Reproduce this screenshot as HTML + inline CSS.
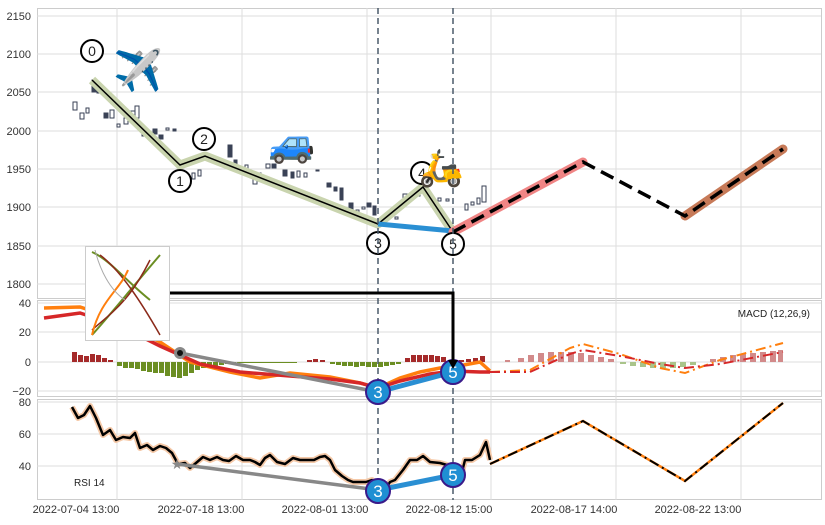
<!DOCTYPE html>
<html><head><meta charset="utf-8"><style>
body{margin:0;background:#fff;}
svg text{font-family:"Liberation Sans",sans-serif;}
</style></head><body>
<svg width="825" height="520" viewBox="0 0 825 520" xmlns="http://www.w3.org/2000/svg">
<rect width="825" height="520" fill="#fff"/>
<g fill="none" stroke="#ccc" stroke-width="1">
<rect x="37.5" y="8.5" width="784" height="290"/>
<rect x="37.5" y="300.5" width="784" height="96"/>
<rect x="37.5" y="399.5" width="784" height="100"/>
</g>
<g stroke="#ddd" stroke-width="1">
<line x1="37" x2="821" y1="16" y2="16"/><line x1="37" x2="821" y1="54" y2="54"/><line x1="37" x2="821" y1="92" y2="92"/><line x1="37" x2="821" y1="131" y2="131"/><line x1="37" x2="821" y1="169" y2="169"/><line x1="37" x2="821" y1="207" y2="207"/><line x1="37" x2="821" y1="246" y2="246"/><line x1="37" x2="821" y1="284" y2="284"/>
<line x1="37" x2="821" y1="303" y2="303"/><line x1="37" x2="821" y1="332" y2="332"/><line x1="37" x2="821" y1="362" y2="362"/><line x1="37" x2="821" y1="391" y2="391"/>
<line x1="37" x2="821" y1="402" y2="402"/><line x1="37" x2="821" y1="434" y2="434"/><line x1="37" x2="821" y1="466" y2="466"/>
<line x1="117" x2="117" y1="8" y2="500"/><line x1="242" x2="242" y1="8" y2="500"/><line x1="367" x2="367" y1="8" y2="500"/><line x1="491" x2="491" y1="8" y2="500"/><line x1="616" x2="616" y1="8" y2="500"/><line x1="741" x2="741" y1="8" y2="500"/>
</g>
<g font-size="11" fill="#333" text-anchor="end">
<text x="31" y="20">2150</text><text x="31" y="58">2100</text><text x="31" y="96">2050</text><text x="31" y="135">2000</text><text x="31" y="173">1950</text><text x="31" y="211">1900</text><text x="31" y="250">1850</text><text x="31" y="288">1800</text>
<text x="31" y="307">40</text><text x="31" y="336">20</text><text x="31" y="366">0</text><text x="31" y="395">−20</text>
<text x="31" y="406">80</text><text x="31" y="438">60</text><text x="31" y="470">40</text>
</g>
<g font-size="11" fill="#333" text-anchor="middle">
<text x="76" y="513">2022-07-04 13:00</text><text x="201" y="513">2022-07-18 13:00</text><text x="325" y="513">2022-08-01 13:00</text><text x="449" y="513">2022-08-12 15:00</text><text x="574" y="513">2022-08-17 14:00</text><text x="698" y="513">2022-08-22 13:00</text>
</g>
<g stroke="#3a4256" stroke-width="1" fill="#fff">
<rect x="73" y="102" width="4" height="8"/><rect x="80" y="113" width="4" height="6"/><rect x="86" y="108" width="3" height="5"/>
<rect x="92" y="80" width="4" height="12" fill="#3a4256"/><rect x="97" y="85" width="3" height="8" fill="#3a4256"/>
<rect x="104" y="113" width="4" height="5" fill="#3a4256"/><rect x="110" y="110" width="4" height="8"/><rect x="117" y="124" width="3" height="3"/>
<rect x="124" y="118" width="4" height="6"/><rect x="131" y="111" width="4" height="8"/><rect x="135" y="106" width="4" height="12"/>
<rect x="142" y="128" width="4" height="8" fill="#3a4256"/><rect x="153" y="129" width="4" height="5" fill="#3a4256"/><rect x="159" y="135" width="4" height="4" fill="#3a4256"/>
<rect x="166" y="128" width="3" height="2"/><rect x="173" y="129" width="3" height="2" fill="#3a4256"/>
<rect x="187" y="160" width="3" height="5"/><rect x="192" y="173" width="3" height="6"/><rect x="198" y="170" width="3" height="6"/>
<rect x="228" y="145" width="4" height="12" fill="#3a4256"/><rect x="234" y="160" width="3" height="5" fill="#3a4256"/><rect x="245" y="165" width="3" height="5"/>
<rect x="253" y="178" width="4" height="6"/><rect x="258" y="173" width="3" height="5"/><rect x="266" y="164" width="4" height="4"/><rect x="272" y="164" width="4" height="4" fill="#3a4256"/>
<rect x="283" y="170" width="4" height="6" fill="#3a4256"/><rect x="291" y="172" width="3" height="6" fill="#3a4256"/><rect x="297" y="171" width="3" height="6"/><rect x="304" y="173" width="3" height="4"/><rect x="316" y="170" width="3" height="1"/>
<rect x="327" y="183" width="4" height="4" fill="#3a4256"/><rect x="334" y="187" width="3" height="4" fill="#3a4256"/><rect x="340" y="188" width="3" height="12" fill="#3a4256"/>
<rect x="349" y="203" width="4" height="6" fill="#3a4256"/><rect x="356" y="210" width="3" height="8"/><rect x="362" y="207" width="3" height="2"/><rect x="367" y="203" width="4" height="4" fill="#3a4256"/><rect x="373" y="206" width="3" height="9" fill="#3a4256"/>
<rect x="383" y="218" width="3" height="4"/><rect x="395" y="217" width="3" height="2"/><rect x="403" y="194" width="4" height="10"/><rect x="409" y="194" width="4" height="6"/><rect x="416" y="190" width="4" height="6"/>
<rect x="438" y="198" width="3" height="3"/><rect x="446" y="199" width="3" height="2"/><rect x="465" y="204" width="3" height="6"/><rect x="471" y="202" width="3" height="3"/><rect x="477" y="198" width="3" height="6"/><rect x="482" y="186" width="4" height="16"/>
</g>
<polyline points="92,80 180,165 205,156 378,224 423,187 453,232" fill="none" stroke="#c9d4ae" stroke-width="9" stroke-linejoin="round"/>
<polyline points="92,80 180,165 205,156 378,224 423,187 453,232" fill="none" stroke="#000" stroke-width="1.5"/>
<line x1="378" y1="224" x2="453" y2="231" stroke="#2a8fd3" stroke-width="5"/>
<line x1="453" y1="232" x2="583" y2="162" stroke="#f08585" stroke-width="9" stroke-linecap="round"/>
<line x1="685" y1="216" x2="783" y2="149" stroke="#c77a58" stroke-width="9" stroke-linecap="round"/>
<polyline points="453,232 583,162 685,216 783,149" fill="none" stroke="#000" stroke-width="3.5" stroke-dasharray="14,7"/>
<g fill="#fff" stroke="#000" stroke-width="2">
<circle cx="92" cy="51" r="11"/><circle cx="180" cy="181" r="11"/><circle cx="204" cy="139" r="11"/><circle cx="378" cy="243" r="11"/><circle cx="422" cy="173" r="11"/><circle cx="453" cy="244" r="11"/>
</g>
<g font-size="14" text-anchor="middle" fill="#222">
<text x="92" y="56">0</text><text x="180" y="186">1</text><text x="204" y="144">2</text><text x="378" y="248">3</text><text x="422" y="178">4</text><text x="453" y="249">5</text>
</g>
<text x="138" y="84" font-size="40" text-anchor="middle">✈️</text>
<text x="292" y="156" font-size="38" text-anchor="middle">🚙</text>
<text x="441" y="180" font-size="36" text-anchor="middle">🛵</text>
<g fill="#a52a2a">
<rect x="72" y="352" width="5" height="10"/><rect x="78" y="355" width="5" height="7"/><rect x="84" y="356" width="5" height="6"/><rect x="90" y="354" width="5" height="8"/><rect x="96" y="355" width="5" height="7"/><rect x="102" y="358" width="5" height="4"/><rect x="108" y="360" width="5" height="2"/>
<rect x="307" y="360" width="5" height="2"/><rect x="313" y="359" width="5" height="3"/><rect x="320" y="360" width="5" height="2"/>
<rect x="405" y="358" width="5" height="4"/><rect x="411" y="355" width="5" height="7"/><rect x="417" y="355" width="5" height="7"/><rect x="423" y="355" width="5" height="7"/><rect x="429" y="355" width="5" height="7"/><rect x="435" y="356" width="5" height="6"/><rect x="441" y="357" width="5" height="5"/><rect x="459" y="360" width="5" height="2"/><rect x="466" y="359" width="5" height="3"/><rect x="473" y="358" width="5" height="4"/><rect x="480" y="356" width="5" height="6"/>
</g>
<g fill="#6b8e23">
<rect x="117" y="362" width="5" height="4"/><rect x="123" y="362" width="5" height="6"/><rect x="129" y="362" width="5" height="6"/><rect x="135" y="362" width="5" height="7"/><rect x="141" y="362" width="5" height="9"/><rect x="147" y="362" width="5" height="10"/><rect x="153" y="362" width="5" height="11"/><rect x="159" y="362" width="5" height="11"/><rect x="165" y="362" width="5" height="14"/><rect x="171" y="362" width="5" height="15"/><rect x="177" y="362" width="5" height="16"/><rect x="183" y="362" width="5" height="14"/><rect x="189" y="362" width="5" height="11"/><rect x="195" y="362" width="5" height="8"/><rect x="201" y="362" width="5" height="6"/><rect x="207" y="362" width="5" height="5"/><rect x="213" y="362" width="5" height="4"/><rect x="219" y="362" width="5" height="3"/><rect x="225" y="362" width="5" height="2"/><rect x="231" y="362" width="5" height="2"/><rect x="237" y="362" width="60" height="1"/>
<rect x="330" y="362" width="5" height="2"/><rect x="336" y="362" width="5" height="3"/><rect x="342" y="362" width="5" height="4"/><rect x="348" y="362" width="5" height="4"/><rect x="354" y="362" width="5" height="5"/><rect x="360" y="362" width="5" height="4"/><rect x="366" y="362" width="5" height="5"/><rect x="372" y="362" width="5" height="5"/><rect x="378" y="362" width="5" height="5"/><rect x="384" y="362" width="5" height="4"/><rect x="390" y="362" width="5" height="3"/><rect x="396" y="362" width="5" height="2"/>
</g>
<g fill="#d28a8a">
<rect x="505" y="360" width="5" height="2"/><rect x="518" y="358" width="6" height="4"/><rect x="528" y="355" width="6" height="7"/><rect x="538" y="353" width="6" height="9"/><rect x="548" y="352" width="6" height="10"/><rect x="558" y="352" width="6" height="10"/><rect x="568" y="352" width="6" height="10"/><rect x="578" y="353" width="6" height="9"/><rect x="588" y="355" width="6" height="7"/><rect x="598" y="357" width="6" height="5"/><rect x="608" y="359" width="6" height="3"/>
<rect x="620" y="362" width="6" height="2" fill="#a9c48a"/><rect x="630" y="362" width="6" height="4" fill="#a9c48a"/><rect x="640" y="362" width="6" height="5" fill="#a9c48a"/><rect x="650" y="362" width="6" height="6" fill="#a9c48a"/><rect x="660" y="362" width="6" height="6" fill="#a9c48a"/><rect x="670" y="362" width="6" height="6" fill="#a9c48a"/><rect x="680" y="362" width="6" height="5" fill="#a9c48a"/><rect x="690" y="362" width="6" height="3" fill="#a9c48a"/>
<rect x="710" y="359" width="6" height="3"/><rect x="720" y="357" width="6" height="5"/><rect x="730" y="355" width="6" height="7"/><rect x="740" y="354" width="6" height="8"/><rect x="750" y="353" width="6" height="9"/><rect x="760" y="352" width="6" height="10"/><rect x="770" y="351" width="6" height="11"/><rect x="778" y="350" width="5" height="12"/>
</g>
<polyline points="44,308 80,307 120,320 160,342 190,362 230,372 260,378 290,373 330,377 360,383 378,388 400,378 420,372 440,368 453,367 480,362 490,371" fill="none" stroke="#ff7f0e" stroke-width="3.5"/>
<polyline points="44,318 80,313 120,326 160,346 200,364 240,372 290,376 330,379 360,383 378,388 400,381 430,374 453,371 480,372 490,372" fill="none" stroke="#d62728" stroke-width="3.5"/>
<polyline points="490,372 530,370 570,348 583,344 620,354 660,368 685,373 720,360 783,343" fill="none" stroke="#ff7f0e" stroke-width="2" stroke-dasharray="10,4,2,4"/>
<polyline points="490,372 530,372 570,354 583,350 620,356 660,364 685,368 720,364 783,352" fill="none" stroke="#d62728" stroke-width="2" stroke-dasharray="10,4,2,4"/>
<line x1="180" y1="353" x2="378" y2="392" stroke="#888" stroke-width="3.5"/>
<circle cx="180" cy="353" r="6" fill="#888"/><circle cx="180" cy="353" r="3" fill="#111"/>
<line x1="378" y1="392" x2="453" y2="372" stroke="#2a8fd3" stroke-width="5"/>
<text x="810" y="317" font-size="10" text-anchor="end" fill="#222">MACD (12,26,9)</text>
<polyline points="72,407 78,418 84,415 90,406 96,418 103,435 110,430 116,440 123,437 130,438 135,433 140,448 147,445 153,450 160,446 166,448 172,453 178,464 185,463 190,468 196,463 203,457 210,460 217,457 223,460 229,461 236,456 243,460 250,460 255,462 260,465 265,458 270,455 277,462 285,464 293,458 300,460 307,460 314,460 320,457 325,456 330,460 335,470 342,476 348,480 353,482 360,482 366,482 372,480 378,485 385,490 390,482 395,480 403,470 410,460 417,460 423,456 430,462 440,463 447,465 453,470 460,480 465,460 472,460 480,455 486,442 490,460" fill="none" stroke="#f5c9a8" stroke-width="6" stroke-linejoin="round"/>
<polyline points="72,407 78,418 84,415 90,406 96,418 103,435 110,430 116,440 123,437 130,438 135,433 140,448 147,445 153,450 160,446 166,448 172,453 178,464 185,463 190,468 196,463 203,457 210,460 217,457 223,460 229,461 236,456 243,460 250,460 255,462 260,465 265,458 270,455 277,462 285,464 293,458 300,460 307,460 314,460 320,457 325,456 330,460 335,470 342,476 348,480 353,482 360,482 366,482 372,480 378,485 385,490 390,482 395,480 403,470 410,460 417,460 423,456 430,462 440,463 447,465 453,470 460,480 465,460 472,460 480,455 486,442 490,460" fill="none" stroke="#000" stroke-width="2.5" stroke-linejoin="round"/>
<polyline points="490,464 583,421 685,481 783,403" fill="none" stroke="#ff7f0e" stroke-width="2.5"/>
<polyline points="490,464 583,421 685,481 783,403" fill="none" stroke="#000" stroke-width="2" stroke-dasharray="10,4,2,4"/>
<line x1="177" y1="464" x2="378" y2="490" stroke="#888" stroke-width="3.5"/>
<text x="177" y="469" font-size="14" text-anchor="middle" fill="#888">★</text>
<line x1="378" y1="490" x2="453" y2="475" stroke="#2a8fd3" stroke-width="5"/>
<text x="74" y="486" font-size="10" fill="#222">RSI 14</text>
<g stroke="#4a5a6a" stroke-width="1.5" stroke-dasharray="6,4">
<line x1="378" y1="8" x2="378" y2="500"/><line x1="453" y1="8" x2="453" y2="500"/>
</g>
<g fill="#1f8fd3" stroke="#3a1a8a" stroke-width="2">
<circle cx="378" cy="392" r="12"/><circle cx="453" cy="372" r="12"/><circle cx="378" cy="491" r="12"/><circle cx="453" cy="475" r="12"/>
</g>
<g font-size="17" fill="#fff" text-anchor="middle">
<text x="378" y="398">3</text><text x="453" y="378">5</text><text x="378" y="497">3</text><text x="453" y="481">5</text>
</g>
<polyline points="170,293 453,293 453,364" fill="none" stroke="#000" stroke-width="3"/>
<polygon points="448,360 458,360 453,369" fill="#000"/>
<rect x="85.5" y="246.5" width="84" height="94" fill="#fff" stroke="#ccc"/>
<path d="M92,252 C110,260 125,280 150,300 M92,335 C110,315 130,290 160,255" stroke="#6b8e23" stroke-width="2" fill="none"/>
<path d="M92,330 C115,310 130,300 150,260 M100,255 C120,270 140,300 160,335" stroke="#8b2a1a" stroke-width="1.5" fill="none"/>
<path d="M92,335 C100,300 120,290 128,270" stroke="#ff7f0e" stroke-width="2" fill="none"/>
<path d="M95,250 C100,270 110,290 125,300" stroke="#aaa" stroke-width="1" fill="none"/>
</svg>
</body></html>
